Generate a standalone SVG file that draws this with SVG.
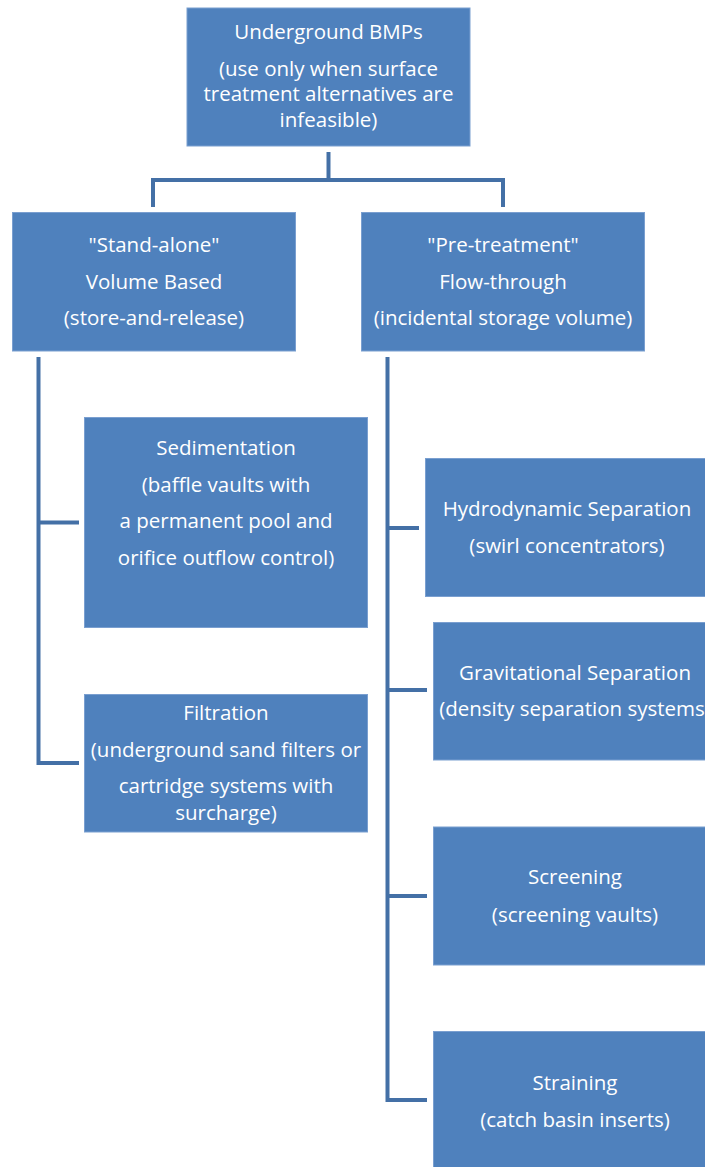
<svg xmlns="http://www.w3.org/2000/svg" width="705" height="1167" viewBox="0 0 705 1167">
<style>
.box{fill:#4f81bd;stroke:#7a9fd0;stroke-width:1}
.t{font-family:"Open Sans","Liberation Sans",sans-serif;font-size:20.5px;fill:#ffffff;text-anchor:middle}
.c{fill:none;stroke:#4470a6;stroke-width:4;stroke-linejoin:miter;stroke-linecap:butt}
</style>
<rect width="705" height="1167" fill="#ffffff"/>
<g id="connectors">
<path class="c" d="M328.5 152 V180"/>
<path class="c" d="M153 207 V180 H503 V207"/>
<path class="c" d="M38.5 357 V763 H79"/>
<path class="c" d="M38.5 522.5 H79"/>
<path class="c" d="M387.5 357 V1100 H427"/>
<path class="c" d="M387.5 528 H419"/>
<path class="c" d="M387.5 690 H427"/>
<path class="c" d="M387.5 896 H427"/>
</g>
<g id="n-root">
<rect class="box" x="187" y="8" width="283" height="138"/>
<text class="t" x="328.5" y="39">Underground BMPs</text>
<text class="t" x="328.5" y="76">(use only when surface</text>
<text class="t" x="328.5" y="101">treatment alternatives are</text>
<text class="t" x="328.5" y="126.5">infeasible)</text>
</g>
<g id="n-standalone">
<rect class="box" x="12.5" y="212.5" width="283" height="138.5"/>
<text class="t" x="154" y="252">"Stand-alone"</text>
<text class="t" x="154" y="289">Volume Based</text>
<text class="t" x="154" y="325">(store-and-release)</text>
</g>
<g id="n-pretreatment">
<rect class="box" x="361.5" y="212.5" width="283" height="138.5"/>
<text class="t" x="503" y="252">"Pre-treatment"</text>
<text class="t" x="503" y="289">Flow-through</text>
<text class="t" x="503" y="325">(incidental storage volume)</text>
</g>
<g id="n-sedimentation">
<rect class="box" x="84.5" y="417.5" width="283" height="210"/>
<text class="t" x="226" y="455">Sedimentation</text>
<text class="t" x="226" y="491.5">(baffle vaults with</text>
<text class="t" x="226" y="528">a permanent pool and</text>
<text class="t" x="226" y="564.5">orifice outflow control)</text>
</g>
<g id="n-filtration">
<rect class="box" x="84.5" y="694.5" width="283" height="137.5"/>
<text class="t" x="226" y="720">Filtration</text>
<text class="t" x="226" y="756.5">(underground sand filters or</text>
<text class="t" x="226" y="792.5">cartridge systems with</text>
<text class="t" x="226" y="820">surcharge)</text>
</g>
<g id="n-hydrodynamic">
<rect class="box" x="425.5" y="458.5" width="283" height="138"/>
<text class="t" x="567" y="516">Hydrodynamic Separation</text>
<text class="t" x="567" y="553">(swirl concentrators)</text>
</g>
<g id="n-gravitational">
<rect class="box" x="433.5" y="622.5" width="283" height="137.5"/>
<text class="t" x="575" y="680">Gravitational Separation</text>
<text class="t" x="575" y="716">(density separation systems)</text>
</g>
<g id="n-screening">
<rect class="box" x="433.5" y="827" width="283" height="138"/>
<text class="t" x="575" y="884">Screening</text>
<text class="t" x="575" y="921.5">(screening vaults)</text>
</g>
<g id="n-straining">
<rect class="box" x="433.5" y="1031.5" width="283" height="138"/>
<text class="t" x="575" y="1090">Straining</text>
<text class="t" x="575" y="1126.5">(catch basin inserts)</text>
</g>
</svg>
